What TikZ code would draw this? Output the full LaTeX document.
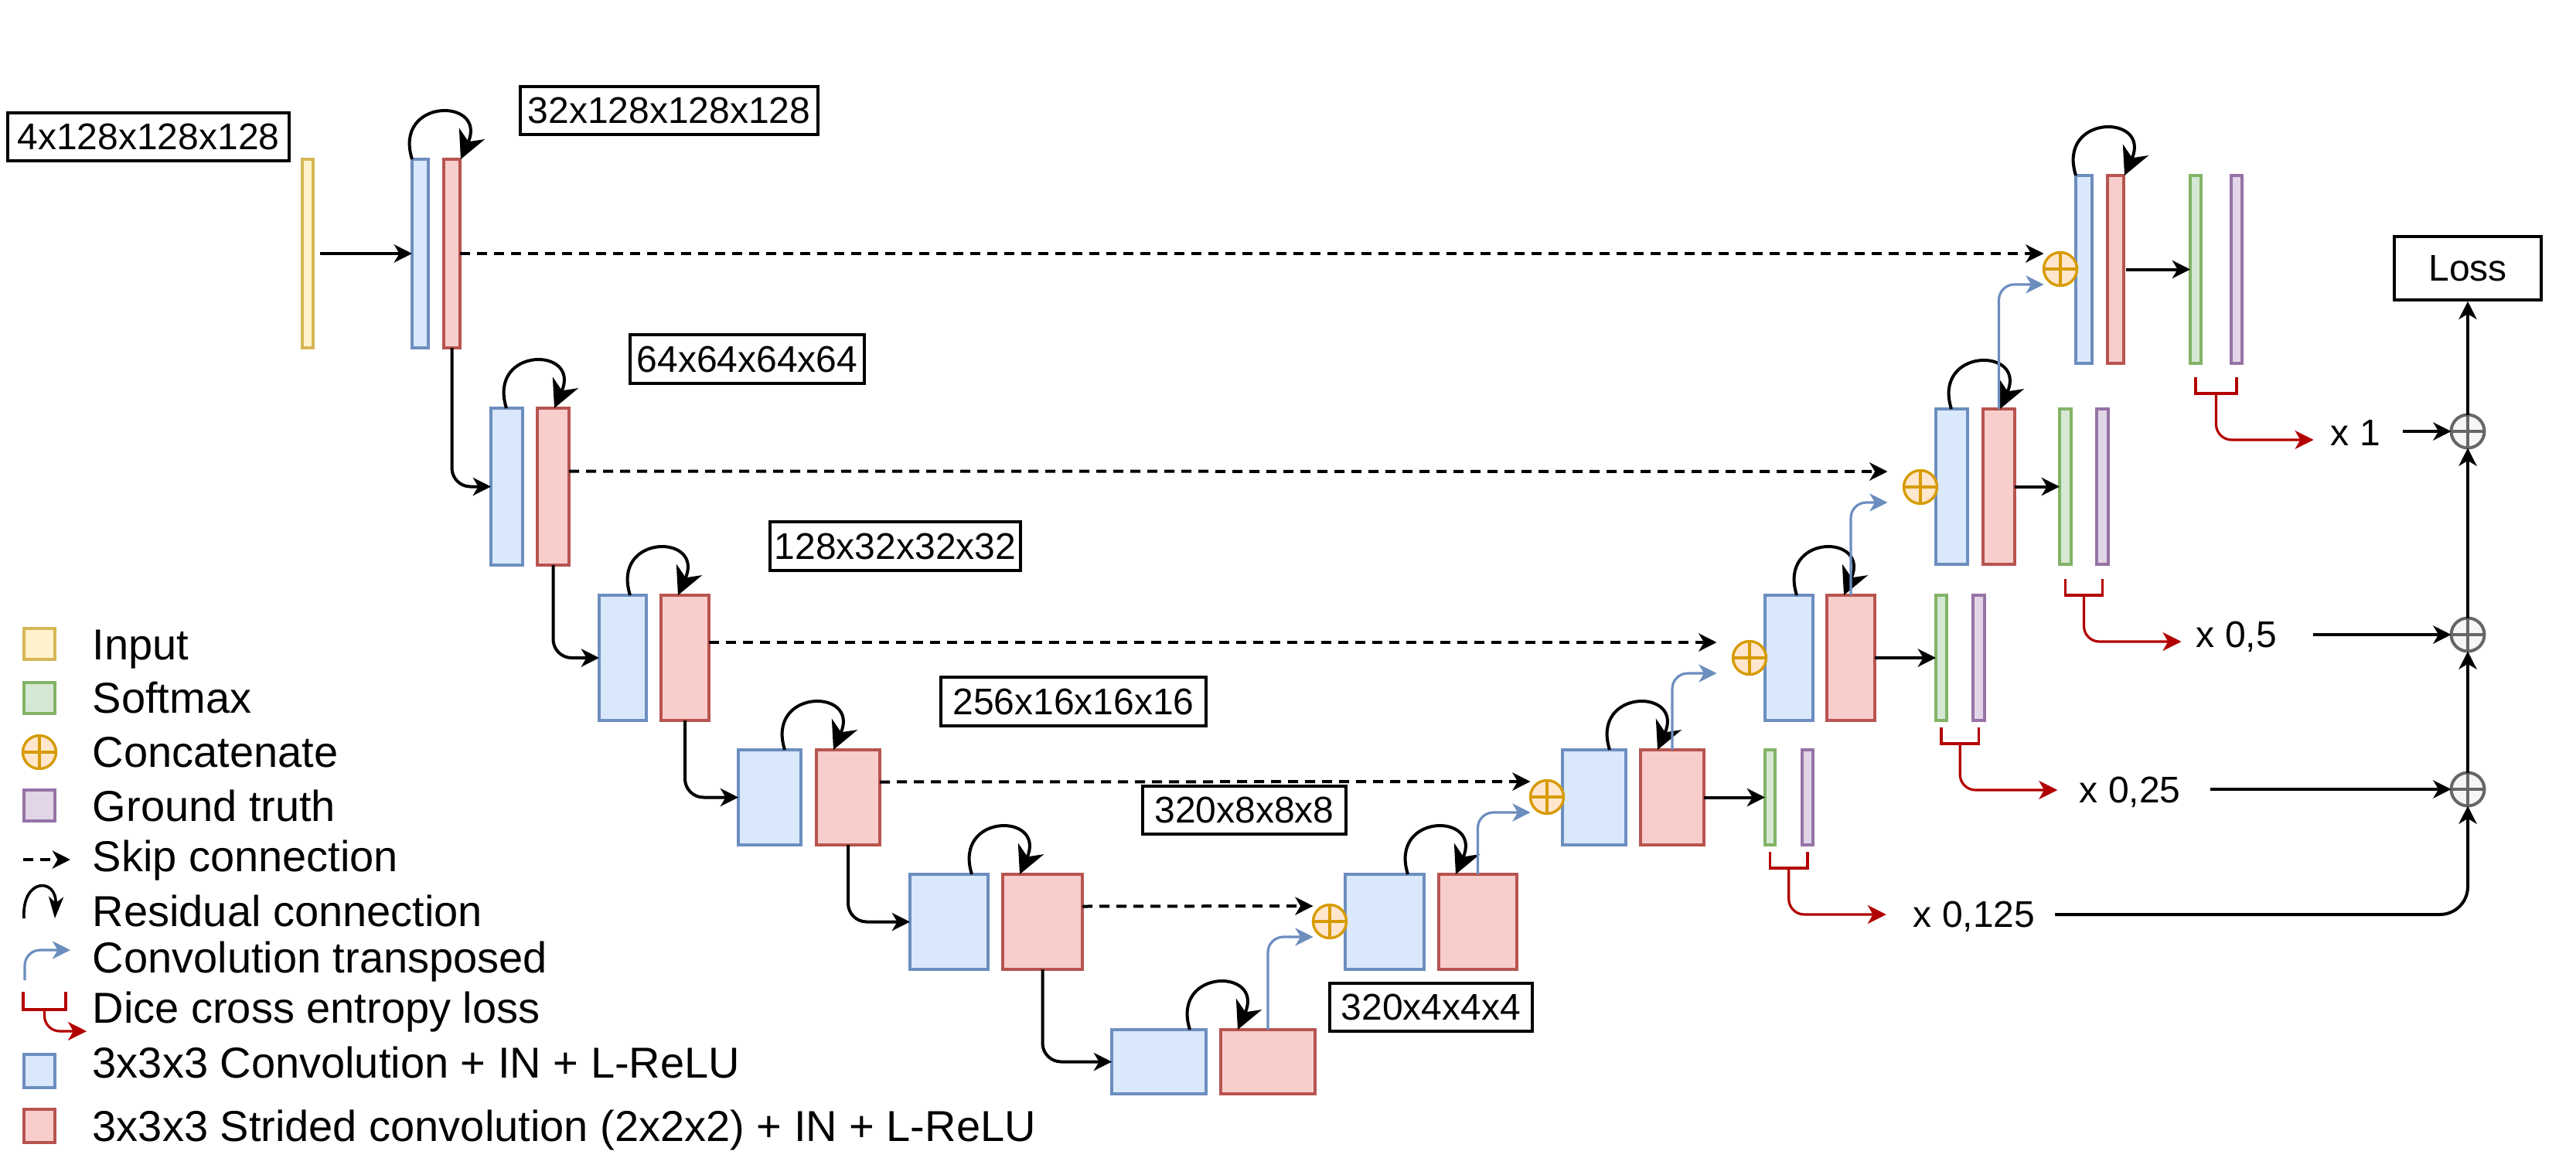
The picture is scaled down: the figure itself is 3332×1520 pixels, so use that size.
\documentclass[tikz,border=0pt]{standalone}
\usepackage{fontspec}
\setmainfont{Liberation Sans}
\usetikzlibrary{arrows.meta,calc,shapes.geometric}
\definecolor{bfill}{HTML}{DAE8FC}\definecolor{bdraw}{HTML}{6C8EBF}
\definecolor{rfill}{HTML}{F8CECC}\definecolor{rdraw}{HTML}{B85450}
\definecolor{yfill}{HTML}{FFF2CC}\definecolor{ydraw}{HTML}{D6B656}
\definecolor{gfill}{HTML}{D5E8D4}\definecolor{gdraw}{HTML}{82B366}
\definecolor{pfill}{HTML}{E1D5E7}\definecolor{pdraw}{HTML}{9673A6}
\definecolor{ofill}{HTML}{FFE6CC}\definecolor{odraw}{HTML}{D79B00}
\definecolor{sfill}{HTML}{F5F5F5}\definecolor{sdraw}{HTML}{666666}
\definecolor{dice}{HTML}{B20000}
\newcommand{\mkbox}[6]{\node[#2, minimum width={(#5-#3)*0.25pt}, minimum height={(#6-#4)*0.25pt}] (#1) at ({(#3+#5)/2},{(#4+#6)/2}) {};}
\newcommand{\mklbl}[6]{\node[lbl, minimum width={(#4-#2)*0.25pt}, minimum height={(#5-#3)*0.25pt}] (#1) at ({(#2+#4)/2},{(#3+#5)/2}) {#6};}
\newcommand{\resloop}[2]{\draw[resarr] ($(#1.north east)+(-21,0)$) .. controls +(-25,-80) and +(35,-80) .. ($(#2.north west)+(22,0)$);}
\newcommand{\diceout}[4]{%
  \draw[dicel] ($(#1.south)+(0,#3)$) -- ++(0,21) -| ($(#2.south)+(0,#3)$);
  \draw[dicearr] ($(#1.south)!0.5!(#2.south)+(0,#3+21)$) |- ++(126,60) coordinate (#4);}
\begin{document}
\begin{tikzpicture}[x=0.25pt,y=-0.25pt,
  blk/.style={draw, line width=0.85pt, inner sep=0pt, outer sep=0pt},
  bbox/.style={blk, fill=bfill, draw=bdraw},
  rbox/.style={blk, fill=rfill, draw=rdraw},
  ybox/.style={blk, fill=yfill, draw=ydraw},
  gbox/.style={blk, fill=gfill, draw=gdraw},
  pbox/.style={blk, fill=pfill, draw=pdraw},
  lbl/.style={draw, line width=0.9pt, inner sep=0pt, font=\fontsize{12}{14}\selectfont},
  lgtext/.style={anchor=base west, inner sep=0pt, font=\fontsize{14}{16}\selectfont},
  outtext/.style={anchor=base west, inner sep=0pt, font=\fontsize{12}{14}\selectfont},
  arr/.style={line width=1pt, -{Stealth[length=5.8pt,width=5.8pt,inset=1.7pt]}},
  skiparr/.style={arr, line width=1pt, dash pattern=on 3.3pt off 2.2pt},
  resarr/.style={line width=1pt, -{Stealth[length=9pt,width=9pt,inset=2.8pt]}},
  tconv/.style={draw=bdraw, line width=0.8pt, rounded corners=5pt, -{Stealth[length=5.8pt,width=5.8pt,inset=1.7pt]}},
  dicel/.style={draw=dice, line width=0.8pt},
  dicearr/.style={dicel, rounded corners=5pt, -{Stealth[length=6pt,width=6pt,inset=1.7pt]}},
  cat/.style={ellipse, draw=odraw, fill=ofill, line width=0.85pt, minimum width=10.75pt, minimum height=10.75pt, inner sep=0pt, outer sep=0pt,
    path picture={\draw[odraw,line width=0.8pt] (path picture bounding box.north) -- (path picture bounding box.south) (path picture bounding box.west) -- (path picture bounding box.east);}},
  sum/.style={ellipse, draw=sdraw, fill=sfill, line width=1pt, minimum width=10.75pt, minimum height=10.75pt, inner sep=0pt, outer sep=0pt,
    path picture={\draw[sdraw,line width=0.8pt] (path picture bounding box.north) -- (path picture bounding box.south) (path picture bounding box.west) -- (path picture bounding box.east);}}
]
\useasboundingbox (0,0) rectangle (3332,1520);

% ---------- labels ----------
\mklbl{l0}{10}{146}{374}{208}{4x128x128x128}
\mklbl{l1}{673}{112}{1058}{174}{32x128x128x128}
\mklbl{l2}{815}{433}{1118}{496}{64x64x64x64}
\mklbl{l3}{996}{675}{1320}{738}{128x32x32x32}
\mklbl{l4}{1217}{876}{1560}{939}{256x16x16x16}
\mklbl{l5}{1478}{1017}{1741}{1079}{320x8x8x8}
\mklbl{l6}{1720}{1272}{1982}{1334}{320x4x4x4}
\mklbl{loss}{3097}{306}{3287}{388}{Loss}

% ---------- encoder ----------
\mkbox{in}{ybox}{391}{206}{405}{450}
\mkbox{eb0}{bbox}{533}{206}{554}{450}
\mkbox{er0}{rbox}{574}{206}{595}{450}
\mkbox{eb1}{bbox}{635}{528}{676}{731}
\mkbox{er1}{rbox}{695}{528}{736}{731}
\mkbox{eb2}{bbox}{775}{770}{836}{932}
\mkbox{er2}{rbox}{855}{770}{917}{932}
\mkbox{eb3}{bbox}{955}{970}{1036}{1093}
\mkbox{er3}{rbox}{1056}{970}{1138}{1093}
\mkbox{eb4}{bbox}{1177}{1131}{1278}{1254}
\mkbox{er4}{rbox}{1297}{1131}{1400}{1254}
\mkbox{eb5}{bbox}{1438}{1332}{1560}{1415}
\mkbox{er5}{rbox}{1579}{1332}{1701}{1415}

% ---------- decoder ----------
\mkbox{db4}{bbox}{1740}{1131}{1842}{1254}
\mkbox{dr4}{rbox}{1861}{1131}{1962}{1254}
\mkbox{db3}{bbox}{2021}{970}{2103}{1093}
\mkbox{dr3}{rbox}{2122}{970}{2204}{1093}
\mkbox{dg3}{gbox}{2283}{970}{2296}{1093}
\mkbox{dp3}{pbox}{2331}{970}{2345}{1093}
\mkbox{db2}{bbox}{2283}{770}{2345}{932}
\mkbox{dr2}{rbox}{2363}{770}{2425}{932}
\mkbox{dg2}{gbox}{2504}{770}{2518}{932}
\mkbox{dp2}{pbox}{2552}{770}{2567}{932}
\mkbox{db1}{bbox}{2504}{529}{2545}{730}
\mkbox{dr1}{rbox}{2565}{529}{2606}{730}
\mkbox{dg1}{gbox}{2664}{529}{2679}{730}
\mkbox{dp1}{pbox}{2712}{529}{2727}{730}
\mkbox{db0}{bbox}{2685}{227}{2706}{470}
\mkbox{dr0}{rbox}{2726}{227}{2747}{470}
\mkbox{dg0}{gbox}{2833}{227}{2847}{470}
\mkbox{dp0}{pbox}{2886}{227}{2900}{470}

\node[cat] (c4) at (1720,1192) {};
\node[cat] (c3) at (2001,1031) {};
\node[cat] (c2) at (2263,851) {};
\node[cat] (c1) at (2484,630) {};
\node[cat] (c0) at (2665,348) {};

\node[sum] (s1) at (3192,558) {};
\node[sum] (s2) at (3192,821) {};
\node[sum] (s3) at (3192,1021) {};

% ---------- encoder connectors ----------
\draw[arr] ($(in.east)+(9,0)$) -- (eb0.west);
\draw[arr, rounded corners=6pt] (er0.south) |- (eb1.west);
\draw[arr, rounded corners=6pt] (er1.south) |- (eb2.west);
\draw[arr, rounded corners=6pt] (er2.south) |- (eb3.west);
\draw[arr, rounded corners=6pt] (er3.south) |- (eb4.west);
\draw[arr, rounded corners=6pt] (er4.south) |- (eb5.west);

% residual loops
\resloop{eb0}{er0}
\resloop{eb1}{er1}
\resloop{eb2}{er2}
\resloop{eb3}{er3}
\resloop{eb4}{er4}
\resloop{eb5}{er5}
\resloop{db4}{dr4}
\resloop{db3}{dr3}
\resloop{db2}{dr2}
\resloop{db1}{dr1}
\resloop{db0}{dr0}

% skip connections
\draw[skiparr] (er0.east) -- ($(c0.west)+(0,-20)$);
\draw[skiparr] ($(er1.east)+(0,-20)$) -- ($(c1.west)+(-21,-20)$);
\draw[skiparr] ($(er2.east)+(0,-20)$) -- ($(c2.west)+(-21,-20)$);
\draw[skiparr] ($(er3.east)+(0,-20)$) -- ($(c3.west)+(0,-20)$);
\draw[skiparr] ($(er4.east)+(0,-20)$) -- ($(c4.west)+(0,-20)$);

% transposed convolutions
\draw[tconv] (er5.north) |- ($(c4.west)+(0,20)$);
\draw[tconv] (dr4.north) |- ($(c3.west)+(0,20)$);
\draw[tconv] (dr3.north) |- ($(c2.west)+(-21,20)$);
\draw[tconv] (dr2.north) |- ($(c1.west)+(-21,20)$);
\draw[tconv] (dr1.north) |- ($(c0.west)+(0,20)$);

% outputs
\draw[arr] (dr3.east) -- (dg3.west);
\draw[arr] (dr2.east) -- (dg2.west);
\draw[arr] (dr1.east) -- (dg1.west);
\draw[arr] ($(dr0.east)+(3,0)$) -- (dg0.west);

\diceout{dg0}{dp0}{18}{d0}
\diceout{dg1}{dp1}{19}{d1}
\diceout{dg2}{dp2}{9}{d2}
\diceout{dg3}{dp3}{9}{d3}

\node[outtext] (t0) at (3014,576) {x 1};
\node[outtext] (t1) at (2840,837) {x 0,5};
\node[outtext] (t2) at (2689,1038) {x 0,25};
\node[outtext] (t3) at (2474,1199) {x 0,125};

\coordinate (w0) at (3108,558);
\coordinate (w1) at (2992,821);
\coordinate (w2) at (2859,1021);
\coordinate (w3) at (2658,1183);
\draw[arr] (w0) -- (s1.west);
\draw[arr] (w1) -- (s2.west);
\draw[arr] (w2) -- (s3.west);
\draw[arr, rounded corners=9pt] (w3) -| (s3.south);
\draw[arr] (s3.north) -- (s2.south);
\draw[arr] (s2.north) -- (s1.south);
\draw[arr] (s1.north) -- (loss.south);

% ---------- legend ----------
\mkbox{lg1}{ybox}{31}{813}{71}{853}
\node[lgtext] (lt1) at (119,853) {Input};
\mkbox{lg2}{gbox}{31}{883}{71}{923}
\node[lgtext] (lt2) at (119,922) {Softmax};
\node[cat] (lg3) at (51,973) {};
\node[lgtext] (lt3) at (119,992) {Concatenate};
\mkbox{lg4}{pbox}{31}{1022}{71}{1062}
\node[lgtext] (lt4) at (119,1062) {Ground truth};
\coordinate (lg5a) at (30,1112);
\coordinate (lg5b) at (91,1112);
\draw[skiparr] (lg5a) -- (lg5b);
\node[lgtext] (lt5) at (119,1127) {Skip connection};
\coordinate (lg6a) at (31,1188);
\coordinate (lg6b) at (71,1188);
\draw[line width=0.9pt, -{Stealth[length=7pt,width=4.8pt,inset=2pt]}] (lg6a) .. controls +(-3,-53) and +(3,-53) .. (lg6b);
\node[lgtext] (lt6) at (119,1198) {Residual connection};
\coordinate (lg7a) at (32,1268);
\coordinate (lg7b) at (91,1229);
\draw[tconv] (lg7a) |- (lg7b);
\node[lgtext] (lt7) at (119,1258) {Convolution transposed};
\coordinate (lg8a) at (30,1283);
\coordinate (lg8b) at (85,1283);
\draw[dicel] (lg8a) -- ++(0,23) -| (lg8b);
\coordinate (lg8c) at (57.5,1306);
\draw[dicearr] (lg8c) |- ++(54.5,28) coordinate (lg8d);
\node[lgtext] (lt8) at (119,1323) {Dice cross entropy loss};
\mkbox{lg9}{bbox}{31}{1364}{71}{1407}
\node[lgtext] (lt9) at (119,1394) {3x3x3 Convolution + IN + L-ReLU};
\mkbox{lg10}{rbox}{31}{1435}{71}{1478}
\node[lgtext] (lt10) at (119,1476) {3x3x3 Strided convolution (2x2x2) + IN + L-ReLU};
\end{tikzpicture}
\end{document}
